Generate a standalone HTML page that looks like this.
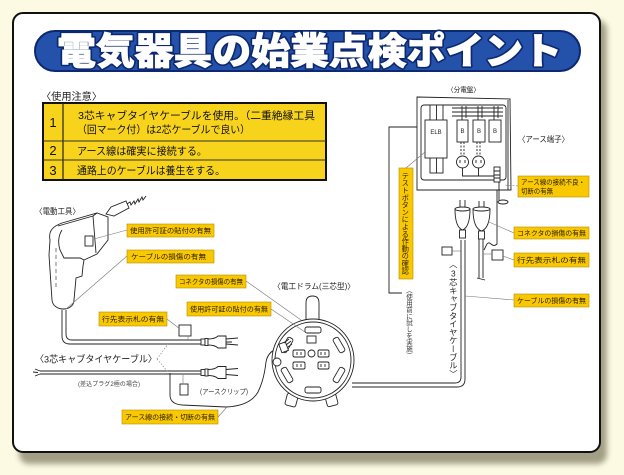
<!DOCTYPE html>
<html><head><meta charset="utf-8">
<style>
html,body{margin:0;padding:0;background:#fdfae4;}
body{width:624px;height:475px;position:relative;overflow:hidden;font-family:"Liberation Sans","Noto Sans CJK JP",sans-serif;}
svg{position:absolute;left:0;top:0;}
.v{position:absolute;writing-mode:vertical-rl;text-orientation:upright;font-family:"Liberation Sans","Noto Sans CJK JP",sans-serif;color:#222;line-height:1;white-space:nowrap;}
</style></head><body>
<svg width="624" height="475" viewBox="0 0 624 475" font-family="'Liberation Sans','Noto Sans CJK JP',sans-serif">
<defs>
<filter id="b" x="-5%" y="-5%" width="110%" height="110%"><feGaussianBlur stdDeviation="3"/></filter>
<style>
.lb{fill:#f8c800;stroke:#b88e00;stroke-width:0.6}
.lt{font-size:7px;fill:#2a1d00}
.ln{stroke:#777;stroke-width:0.6;fill:none}
.k{stroke:#222;stroke-width:0.9;fill:#fff}
.kn{stroke:#222;stroke-width:0.9;fill:none}
.cap{font-size:8px;fill:#222}
</style>
</defs>
<!-- board shadow & board -->
<rect x="19" y="20" width="588" height="444" rx="10" fill="#a29f86" filter="url(#b)"/>
<rect x="13" y="13" width="587" height="439" rx="10" fill="#fff" stroke="#111" stroke-width="2"/>

<!-- title -->
<rect x="35" y="31" width="545" height="40" rx="20" fill="#2452ab" stroke="#0c2870" stroke-width="2"/>
<text x="57" y="64" font-size="37" font-weight="900" textLength="505" lengthAdjust="spacingAndGlyphs" fill="#0c2870" stroke="#0c2870" stroke-width="4" stroke-linejoin="round">電気器具の始業点検ポイント</text>
<text x="57" y="64" font-size="37" font-weight="900" textLength="505" lengthAdjust="spacingAndGlyphs" fill="#fff" stroke="#fff" stroke-width="0.8">電気器具の始業点検ポイント</text>

<!-- table -->
<text x="41" y="100" font-size="10" fill="#222" textLength="61" lengthAdjust="spacingAndGlyphs">〈使用注意〉</text>
<rect x="43" y="103" width="283" height="77" fill="#f7d31c" stroke="#111" stroke-width="2"/>
<line x1="63" y1="103" x2="63" y2="180" stroke="#222" stroke-width="1.2"/>
<line x1="43" y1="141" x2="326" y2="141" stroke="#333" stroke-width="1"/>
<line x1="43" y1="160" x2="326" y2="160" stroke="#333" stroke-width="1"/>
<g font-size="13" fill="#111" text-anchor="middle">
<text x="53" y="127">1</text><text x="53" y="155">2</text><text x="53" y="175">3</text>
</g>
<g font-size="10.5" fill="#111">
<text x="78" y="119" textLength="237" lengthAdjust="spacingAndGlyphs">3芯キャブタイヤケーブルを使用。（二重絶縁工具</text>
<text x="77" y="133" textLength="173" lengthAdjust="spacingAndGlyphs">（回マーク付）は2芯ケーブルで良い）</text>
<text x="77" y="154.5" textLength="130" lengthAdjust="spacingAndGlyphs">アース線は確実に接続する。</text>
<text x="77" y="174" textLength="148" lengthAdjust="spacingAndGlyphs">通路上のケーブルは養生をする。</text>
</g>

<!-- captions -->
<text x="35" y="214" class="cap" textLength="45" lengthAdjust="spacingAndGlyphs">〈電動工具〉</text>
<text x="273" y="289" class="cap" textLength="82" lengthAdjust="spacingAndGlyphs">〈電工ドラム(三芯型)〉</text>
<text x="447" y="92" font-size="7" fill="#222" textLength="33" lengthAdjust="spacingAndGlyphs">〈分電盤〉</text>
<text x="518" y="142" class="cap" textLength="51" lengthAdjust="spacingAndGlyphs">〈アース端子〉</text>
<text x="35" y="362.5" font-size="9.5" fill="#222" textLength="122" lengthAdjust="spacingAndGlyphs">〈3芯キャブタイヤケーブル〉</text>
<text x="78" y="386" font-size="6" fill="#444" textLength="62" lengthAdjust="spacingAndGlyphs">(差込プラグ2極の場合)</text>
<text x="200" y="394" font-size="7" fill="#333" textLength="48" lengthAdjust="spacingAndGlyphs">(アースクリップ)</text>

<!-- drill -->
<path class="k" d="M50,240 C48,230 54,226 62,223 L97,213 L108,217 L108,240 L97,254 L84,260 L83,266 L82,276 L76,278 L74,300 C74,312 53,312 52,300 L49,255 Z"/>
<path class="kn" d="M58,226 L93,216 L97,213 M93,216 L96,253 M62,230 C58,236 58,244 60,250 L64,258 L80,258 L84,260"/>
<rect class="k" x="85" y="236" width="8" height="10"/>
<line x1="56" y1="248" x2="56" y2="290" stroke="#444" stroke-width="0.7" stroke-dasharray="4,3"/>
<path class="k" d="M106,214 L111,207 L126,201 L129,208 L114,216 Z"/>
<path class="kn" d="M127,204 L130,202 L131,205 L134,201 L135,204 L138,199 L139,202 L142,197 L143,200 L146,196"/>
<!-- drill cable -->
<path class="kn" d="M62,310 L62,336 Q62,344 70,344 L202,344 M66,310 L66,334 Q66,340 72,340 L202,340"/>
<g transform="translate(0,342)">
<rect class="k" x="201" y="-3" width="4" height="6"/><rect class="k" x="205" y="-3.5" width="3" height="7"/>
<path class="k" d="M208,-3 Q215,-3 218,-6 L226,-6 L226,6 L218,6 Q215,3 208,3 Z"/>
<path class="kn" d="M226,-3 L238,-4 M226,2 L238,3 M226,0 L232,0"/>
</g>
<!-- lower cable -->
<path class="kn" d="M40,371 L202,371 M40,374 L202,374 M40,371 L35,369 M40,374 L35,376 M38,372.5 L33,372"/>
<g transform="translate(0,372.5)">
<rect class="k" x="201" y="-3" width="4" height="6"/><rect class="k" x="205" y="-3.5" width="3" height="7"/>
<path class="k" d="M208,-3 Q215,-3 218,-6 L226,-6 L226,6 L218,6 Q215,3 208,3 Z"/>
<path class="kn" d="M226,-3 L238,-4 M226,2 L238,3"/>
</g>
<!-- earth wire -->
<path class="kn" d="M170,373 L170,395 Q170,404 182,405 L226,407 Q250,406 258,392 Q264,380 266,362 Q268,350 282,347"/>
<!-- tags -->
<rect class="k" x="179" y="325" width="12" height="11"/>
<line class="ln" x1="188" y1="336" x2="188" y2="340"/>
<rect class="k" x="180" y="384" width="8" height="11"/>
<line class="ln" x1="183" y1="374" x2="183" y2="384"/>

<!-- drum -->
<rect class="k" x="286" y="394" width="11" height="12" rx="2" transform="rotate(15 291 400)"/>
<rect class="k" x="326" y="394" width="11" height="12" rx="2" transform="rotate(-15 331 400)"/>
<path class="k" d="M306,322 L306,303 Q306,296 312.5,296 Q319,296 319,303 L319,322 Z"/>
<circle class="k" cx="313" cy="360" r="41"/>
<circle class="kn" cx="313" cy="360" r="38"/>
<g transform="translate(313,360)">
<rect class="k" x="-8" y="-33" width="16" height="6" rx="2"/>
<rect class="k" x="-8" y="-33" width="16" height="6" rx="2" transform="rotate(60)"/>
<rect class="k" x="-8" y="-33" width="16" height="6" rx="2" transform="rotate(120)"/>
<rect class="k" x="-8" y="-33" width="16" height="6" rx="2" transform="rotate(180)"/>
<rect class="k" x="-8" y="-33" width="16" height="6" rx="2" transform="rotate(240)"/>
<rect class="k" x="-8" y="-33" width="16" height="6" rx="2" transform="rotate(300)"/>
</g>
<rect class="k" x="307" y="336" width="9" height="7"/>
<g class="k">
<rect x="293" y="350" width="12" height="7" rx="1.5"/><rect x="318" y="350" width="11" height="7" rx="1.5"/>
<rect x="293" y="362" width="12" height="7" rx="1.5"/><rect x="318" y="362" width="11" height="7" rx="1.5"/>
<circle cx="311.5" cy="353.5" r="3.5"/>
<circle cx="277" cy="362" r="4"/>
</g>
<path class="kn" d="M297,352 L297,355 M301,352 L301,355 M321,352 L321,355 M325,352 L325,355 M297,364 L297,367 M301,364 L301,367 M321,364 L321,367 M325,364 L325,367"/>
<rect class="k" x="280" y="343" width="7" height="9" transform="rotate(-20 283 347)"/>
<path class="kn" d="M284,343 L289,339 M286,345 L291,341 M288,347 L292,344"/>
<!-- drum cable to panel -->
<path class="kn" d="M352,387 L457,387 Q465,387 465,379 L465,240 M352,383 L455,383 Q461,383 461,377 L461,240"/>

<!-- distribution panel -->
<path class="k" d="M417,97 L510,99 L511,190 L417,190 Z"/>
<line class="kn" x1="508" y1="100" x2="508" y2="190"/>
<rect class="kn" x="421" y="105" width="85" height="75" rx="3"/>
<rect class="k" x="430" y="105" width="13" height="68"/>
<line class="kn" x1="436.5" y1="105" x2="436.5" y2="173"/>
<rect class="k" x="425" y="120" width="22" height="38"/>
<text x="436" y="134" font-size="6" text-anchor="middle" fill="#222">ELB</text>
<path class="kn" d="M452,108 L503,108 M452,112 L503,112 M452,116 L503,116 M462,106 L462,120 M466,106 L466,118 M478,106 L478,120 M482,106 L482,118 M494,106 L494,120 M498,106 L498,118"/>
<rect class="k" x="457" y="120" width="11" height="22"/>
<rect class="k" x="473" y="120" width="12" height="22"/>
<rect class="k" x="489" y="120" width="12" height="22"/>
<g font-size="6" text-anchor="middle" fill="#222"><text x="462.5" y="133">B</text><text x="479" y="133">B</text><text x="495" y="133">B</text></g>
<path class="kn" d="M461,142 L461,156 M464,142 L464,156 M477,142 L477,156 M480,142 L480,156" stroke-dasharray="2,1.5"/>
<circle class="k" cx="462.5" cy="162" r="6"/><circle class="k" cx="478.5" cy="162" r="6"/>
<path class="kn" d="M460,160 L460,163 M465,160 L465,163 M476,160 L476,163 M481,160 L481,163"/>
<path class="kn" d="M462.5,168 L462.5,176 L497,176 M478.5,168 L478.5,176"/>
<rect class="k" x="494" y="167" width="6" height="15"/>
<path class="kn" d="M494,171 L500,171 M494,175 L500,175 M494,178 L500,178"/>
<path class="kn" d="M497,190 L497,244 Q494,247 491,244 Q488,241 486,246 L484,250 M499,182 L499,200"/>
<ellipse class="kn" cx="503" cy="202" rx="5" ry="2"/>
<path class="kn" d="M417,127 L389,127 L389,293 L402,293"/>
<line class="ln" x1="406" y1="168" x2="425" y2="152"/>
<!-- connectors -->
<path class="kn" d="M460,200 L460,209 M465,200 L465,209 M479,201 L479,209 M484,201 L484,209"/>
<path class="k" d="M455,209 Q455,227 462.5,230 Q470,227 470,209 Z"/>
<ellipse class="k" cx="462.5" cy="209" rx="7.5" ry="2"/>
<rect class="k" x="459.5" y="230" width="6" height="8"/>
<path class="k" d="M473,209 Q473,228 481.5,231 Q490,228 490,209 Z"/>
<ellipse class="k" cx="481.5" cy="209" rx="8.5" ry="2"/>
<rect class="k" x="478.5" y="231" width="6" height="8"/>
<path class="kn" d="M479,239 L479,278 M483,239 L483,278 M477,278 L485,280"/>
<rect class="k" x="442" y="247" width="10" height="8"/>
<line class="ln" x1="452" y1="251" x2="461" y2="251"/>
<rect class="k" x="492" y="250" width="11" height="10"/>
<line class="ln" x1="483" y1="254" x2="492" y2="254"/>

<!-- label connector lines -->
<g class="ln">
<line x1="127" y1="230" x2="94" y2="239"/>
<line x1="127" y1="256" x2="66" y2="309"/>
<line x1="246" y1="281" x2="301" y2="320"/>
<line x1="271" y1="309" x2="305" y2="332"/>
<line x1="167" y1="319" x2="180" y2="329"/>
<line x1="218" y1="417" x2="227" y2="407"/>
<line x1="157" y1="359" x2="168" y2="344" stroke-dasharray="1.5,1.5"/>
<line x1="157" y1="359" x2="168" y2="372" stroke-dasharray="1.5,1.5"/>
<line x1="518" y1="186" x2="504" y2="185" stroke-dasharray="2,1.5"/>
<line x1="514" y1="233" x2="489" y2="222"/>
<line x1="514" y1="260" x2="503" y2="256"/>
<line x1="514" y1="300" x2="465" y2="296"/>
</g>

<!-- labels -->
<rect class="lb" x="127" y="224" width="87" height="13"/><text class="lt" x="130" y="233" textLength="81" lengthAdjust="spacingAndGlyphs">使用許可証の貼付の有無</text>
<rect class="lb" x="127" y="250" width="87" height="13"/><text class="lt" x="131" y="259" textLength="75" lengthAdjust="spacingAndGlyphs">ケーブルの損傷の有無</text>
<rect class="lb" x="176" y="275" width="70" height="13"/><text class="lt" x="179" y="284" textLength="64" lengthAdjust="spacingAndGlyphs">コネクタの損傷の有無</text>
<rect class="lb" x="187" y="302" width="84" height="14"/><text class="lt" x="190" y="311.5" textLength="78" lengthAdjust="spacingAndGlyphs">使用許可証の貼付の有無</text>
<rect class="lb" x="99" y="312" width="68" height="14"/><text class="lt" x="102" y="321.5" textLength="62" lengthAdjust="spacingAndGlyphs">行先表示札の有無</text>
<rect class="lb" x="122" y="410" width="96" height="14"/><text class="lt" x="125" y="419.5" textLength="90" lengthAdjust="spacingAndGlyphs">アース線の接続・切断の有無</text>
<rect class="lb" x="518" y="176" width="71" height="21"/>
<text class="lt" x="521" y="184.5" textLength="64" lengthAdjust="spacingAndGlyphs">アース線の接続不良・</text>
<text class="lt" x="521" y="193.5" textLength="32" lengthAdjust="spacingAndGlyphs">切断の有無</text>
<rect class="lb" x="514" y="227" width="75" height="12"/><text class="lt" x="517" y="235.5" textLength="69" lengthAdjust="spacingAndGlyphs">コネクタの損傷の有無</text>
<rect class="lb" x="514" y="253" width="75" height="14"/><text class="lt" x="517" y="262.5" textLength="69" lengthAdjust="spacingAndGlyphs">行先表示札の有無</text>
<rect class="lb" x="514" y="294" width="75" height="13"/><text class="lt" x="517" y="303" textLength="69" lengthAdjust="spacingAndGlyphs">ケーブルの損傷の有無</text>
<rect class="lb" x="399" y="168" width="14" height="111"/>
</svg>
<div class="v" style="left:402px;top:172px;font-size:7.3px;color:#2a1d00;">テストボタンによる作動の確認</div>
<div class="v" style="left:404px;top:287px;font-size:6.5px;color:#333;">（使用前に試しを実施）</div>
<div class="v" style="left:449px;top:260px;font-size:8.3px;color:#222;">〈3芯キャブタイヤケーブル〉</div>
</body></html>
